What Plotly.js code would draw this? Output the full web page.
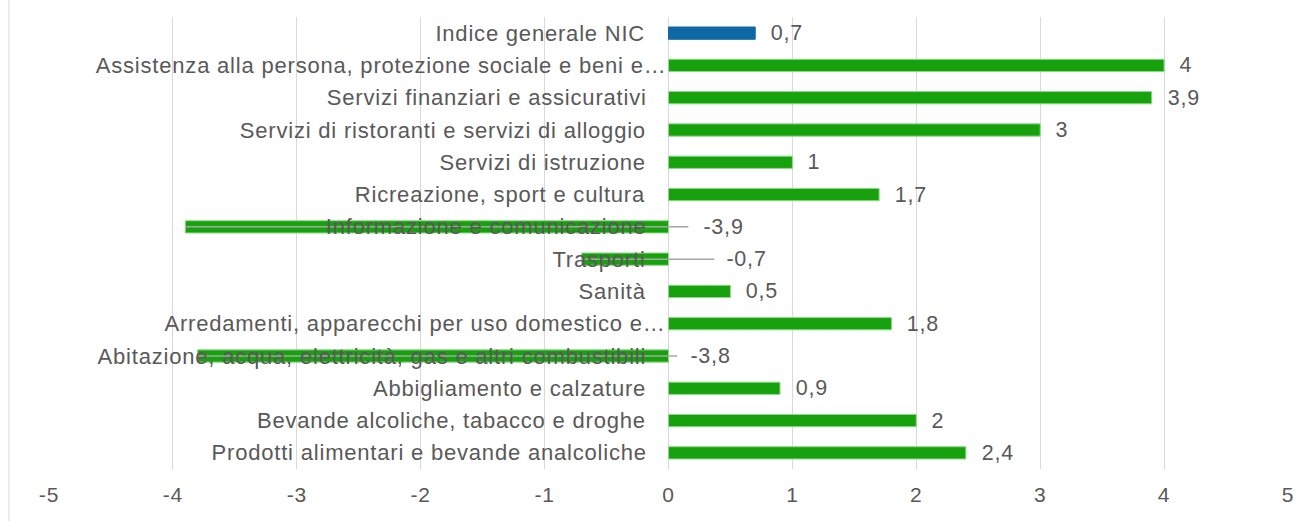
<!DOCTYPE html>
<html>
<head>
<meta charset="utf-8">
<script src="https://cdn.plot.ly/plotly-3.0.1.min.js"></script>
<style>
html,body{margin:0;padding:0;background:#fff;}
#chart{width:1309px;height:521px;}
#chart text{letter-spacing:0.8px;}
</style>
</head>
<body>
<div id="chart"></div>
<script>
// Data (top to bottom as shown)
const categories = [
  "Indice generale NIC",
  "Assistenza alla persona, protezione sociale e beni e…",
  "Servizi finanziari e assicurativi",
  "Servizi di ristoranti e servizi di alloggio",
  "Servizi di istruzione",
  "Ricreazione, sport e cultura",
  "Informazione e comunicazione",
  "Trasporti",
  "Sanità",
  "Arredamenti, apparecchi per uso domestico e…",
  "Abitazione, acqua, elettricità, gas e altri combustibili",
  "Abbigliamento e calzature",
  "Bevande alcoliche, tabacco e droghe",
  "Prodotti alimentari e bevande analcoliche"
];
const values = [0.7, 4, 3.9, 3, 1, 1.7, -3.9, -0.7, 0.5, 1.8, -3.8, 0.9, 2, 2.4];
const valueLabels = ["0,7", "4", "3,9", "3", "1", "1,7", "-3,9", "-0,7", "0,5", "1,8", "-3,8", "0,9", "2", "2,4"];
const xTicks = [-5, -4, -3, -2, -1, 0, 1, 2, 3, 4, 5];

// Styling: where the labels of negative bars were moved (axis units)
const negLabelPos = {
  "Informazione e comunicazione": {label: 0.28, lineEnd: 0.16},
  "Trasporti": {label: 0.46, lineEnd: 0.37},
  "Abitazione, acqua, elettricità, gas e altri combustibili": {label: 0.17, lineEnd: 0.07}
};

const GREEN = '#17a20d';
const BLUE = '#0e68a4';
const TXT = '#595959';
const FONT = 'Liberation Sans, Arial, sans-serif';
const CAT_SIZE = 22;
const VAL_SIZE = 21.5;
const LS = 0.8; // letter spacing (css) – compensate the anchor shift
const comp = s => LS / 2 * (s.length - 1);

const colors = categories.map((c, i) => i === 0 ? BLUE : GREEN);
const lineColors = categories.map((c, i) => i === 0 ? BLUE : '#8fd98a');

const trace = {
  type: 'bar',
  orientation: 'h',
  y: categories,
  x: values,
  marker: {color: colors, line: {color: lineColors, width: 1}},
  hoverinfo: 'none',
  width: 0.38
};

const annotations = [];
const shapes = [];
categories.forEach((c, i) => {
  const truncated = c.endsWith('…');
  annotations.push({
    x: 0, y: c, xref: 'x', yref: 'y', text: c, showarrow: false,
    xanchor: 'right', yanchor: 'middle', xshift: (truncated ? -1 : -21) - comp(c),
    font: {family: FONT, size: CAT_SIZE, color: TXT}
  });
  const v = values[i];
  const lab = valueLabels[i];
  if (v >= 0) {
    annotations.push({
      x: v, y: c, xref: 'x', yref: 'y', text: lab, showarrow: false,
      xanchor: 'left', yanchor: 'middle', xshift: 14 + comp(lab),
      font: {family: FONT, size: VAL_SIZE, color: TXT}
    });
  } else {
    const p = negLabelPos[c];
    annotations.push({
      x: p.label, y: c, xref: 'x', yref: 'y', text: lab, showarrow: false,
      xanchor: 'left', yanchor: 'middle', xshift: -1 + comp(lab),
      font: {family: FONT, size: VAL_SIZE, color: TXT}
    });
    shapes.push({
      type: 'line', xref: 'x', yref: 'y', x0: v, x1: p.lineEnd, y0: c, y1: c,
      line: {color: '#a6a6a6', width: 1.5}, layer: 'above'
    });
  }
});

// chart border on the left
shapes.push({
  type: 'line', xref: 'paper', yref: 'paper', x0: -0.0323, x1: -0.0323, y0: -0.2, y1: 1.2,
  line: {color: '#d9d9d9', width: 1}
});

const layout = {
  width: 1309, height: 521,
  margin: {l: 49, r: 21, t: 17, b: 52},
  paper_bgcolor: '#ffffff', plot_bgcolor: '#ffffff',
  showlegend: false,
  xaxis: {
    range: [-5, 5], tickvals: xTicks, ticktext: xTicks.map(String),
    showgrid: true, gridcolor: '#d9d9d9', gridwidth: 1,
    zeroline: false, showline: false, ticks: '',
    tickfont: {family: FONT, size: 21, color: TXT},
    ticklabelstandoff: 11, fixedrange: true
  },
  yaxis: {
    type: 'category', categoryorder: 'array', categoryarray: categories,
    autorange: 'reversed', showticklabels: false, showgrid: false,
    zeroline: false, showline: false, ticks: '', fixedrange: true
  },
  annotations: annotations,
  shapes: shapes
};

Plotly.newPlot('chart', [trace], layout, {displayModeBar: false, staticPlot: true});
</script>
</body>
</html>
